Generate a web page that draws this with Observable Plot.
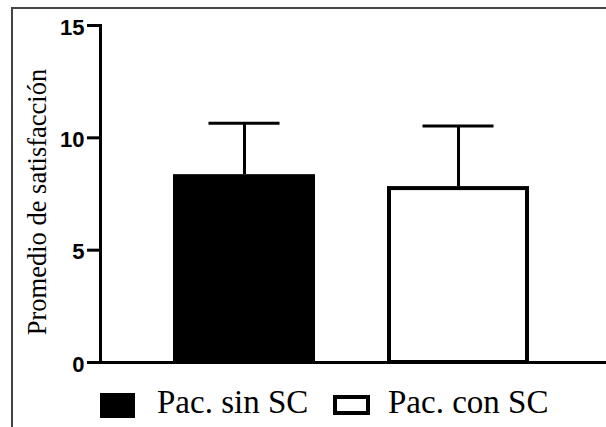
<!DOCTYPE html>
<html><head><meta charset="utf-8">
<script src="https://cdn.jsdelivr.net/npm/d3@7"></script>
<script src="https://cdn.jsdelivr.net/npm/@observablehq/plot@0.6"></script>
<style>
html,body{margin:0;padding:0;background:#fff;}
#wrap{position:relative;width:606px;height:427px;overflow:hidden;}
#border{position:absolute;left:11px;top:7px;width:700px;height:500px;border-top:2px solid #444;border-left:2px solid #444;pointer-events:none;}
#chart svg{display:block;}
.sw{position:absolute;box-sizing:border-box;}
.lt{position:absolute;font-family:"Liberation Serif","Times New Roman",serif;font-size:33px;line-height:33px;color:#000;white-space:nowrap;}
</style></head><body>
<div id="wrap"><div id="border"></div><div id="chart"></div><div id="legend"></div></div>
<script>
const groups = ["Pac. sin SC", "Pac. con SC"];
const means = [8.36, 7.83];
const sds = [2.29, 2.70];
const fills = ["black", "white"];
const yTicks = [0, 5, 10, 15];
const yLabel = "Promedio de satisfacción";

const data = groups.map((g, i) => ({group: g, mean: means[i], sd: sds[i]}));

const plot = Plot.plot({
  width: 606, height: 377,
  marginLeft: 100, marginRight: 0, marginTop: 25, marginBottom: 15,
  x: {domain: groups, range: [100, 602], paddingInner: 0.335, paddingOuter: 0.335, axis: null},
  y: {domain: [0, 15], axis: null},
  color: {domain: groups, range: fills},
  style: {background: "transparent", color: "black"},
  marks: [
    Plot.barY(data, {x: "group", y: "mean", fill: "group", stroke: "black", strokeWidth: 4, insetTop: 2, insetLeft: 2, insetRight: 2, insetBottom: 0}),
    Plot.ruleX(data, {x: "group", y1: "mean", y2: d => d.mean + d.sd, stroke: "black", strokeWidth: 3}),
    Plot.tickY(data, {x: "group", y: d => d.mean + d.sd, stroke: "black", strokeWidth: 3, insetLeft: 35.5, insetRight: 35.5}),
    Plot.ruleY([0], {stroke: "black", strokeWidth: 3}),
    Plot.frame({anchor: "left", stroke: "black", strokeWidth: 3}),
    Plot.axisY({ticks: yTicks, tickSize: 13, strokeWidth: 3, stroke: "black", fill: "none", label: null}),
    Plot.text(yTicks, {y: d => d, text: d => String(d), frameAnchor: "left", textAnchor: "end", dx: -16, dy: 2, fill: "black", fontSize: 22, fontWeight: "bold", fontFamily: "Liberation Sans, Arial, sans-serif"}),
    Plot.text([yLabel], {frameAnchor: "left", textAnchor: "middle", lineAnchor: "middle", rotate: -90, dx: -63, dy: 8, fontFamily: "Liberation Serif", fontSize: 26.5, fill: "black"})
  ]
});
document.getElementById("chart").appendChild(plot);

// legend
const legend = document.getElementById("legend");
const swPos = [{left: 100, top: 393, w: 35, h: 25}, {left: 333, top: 395, w: 37, h: 20}];
const txtLeft = [157, 388];
groups.forEach((g, i) => {
  const sw = document.createElement("div");
  sw.className = "sw";
  const p = swPos[i];
  sw.style.left = p.left + "px"; sw.style.top = p.top + "px";
  sw.style.width = p.w + "px"; sw.style.height = p.h + "px";
  sw.style.background = fills[i];
  sw.style.border = "4px solid black";
  legend.appendChild(sw);
  const t = document.createElement("div");
  t.className = "lt";
  t.textContent = g;
  t.style.left = txtLeft[i] + "px";
  t.style.top = "386px";
  legend.appendChild(t);
});
</script>
</body></html>
